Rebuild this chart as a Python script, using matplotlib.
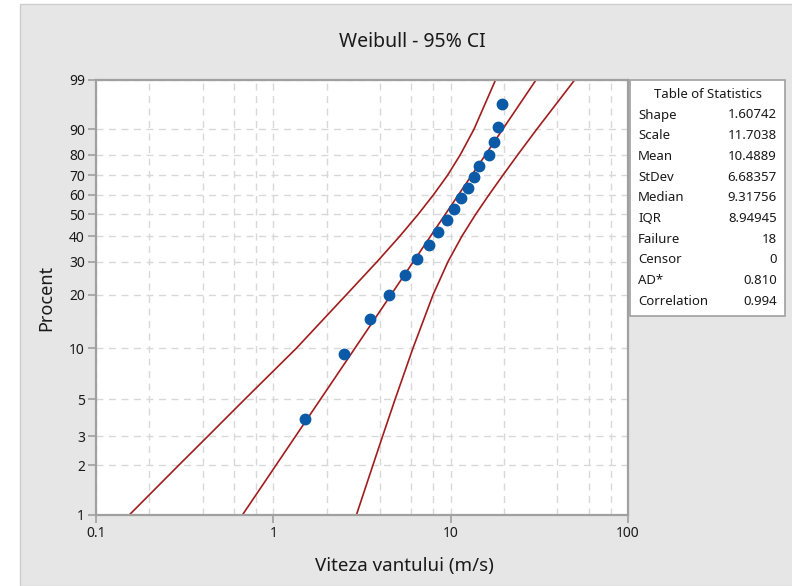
import numpy as np
import matplotlib
matplotlib.use("Agg")
import matplotlib.pyplot as plt
from matplotlib.patches import Rectangle

plt.rcParams['font.family'] = ['Noto Sans', 'DejaVu Sans']

# wind speed observations (m/s) and their plotted percent (median ranks)
speed = [1.5, 2.5, 3.5, 4.5, 5.5, 6.5, 7.5, 8.5, 9.5,
         10.5, 11.5, 12.5, 13.5, 14.5, 16.5, 17.5, 18.5, 19.5]
percent = [3.8, 9.2, 14.7, 20.1, 25.5, 31.0, 36.4, 41.8, 47.3,
           52.7, 58.2, 63.6, 69.0, 74.5, 79.9, 85.3, 90.8, 96.2]

# fitted Weibull
shape = 1.60742
scale = 11.7038

# 95% CI band, read at the percent grid levels
ci_pct = [1, 2, 3, 5, 10, 20, 30, 40, 50, 60, 70, 80, 90, 99]
ci_low = [0.154, 0.292, 0.427, 0.69, 1.35, 2.575, 3.85, 5.17, 6.55, 8.01, 9.61, 11.34, 13.54, 17.9]
ci_high = [2.94, 3.64, 4.13, 4.86, 6.13, 7.95, 9.66, 11.58, 13.82, 16.47, 19.7, 23.92, 30.6, 50.0]

stat_names = ["Shape", "Scale", "Mean", "StDev", "Median", "IQR",
              "Failure", "Censor", "AD*", "Correlation"]
stat_values = ["1.60742", "11.7038", "10.4889", "6.68357", "9.31756",
               "8.94945", "18", "0", "0.810", "0.994"]

pct_ticks = [1, 2, 3, 5, 10, 20, 30, 40, 50, 60, 70, 80, 90, 99]
x_ticks = [0.1, 1, 10, 100]
x_grid = [0.2, 0.4, 0.6, 0.8, 2, 4, 6, 8, 20, 40, 60, 80]

red = "#a11d1d"
blue = "#0a5aa8"
frame = "#a0a0a0"
gridc = "#d8d8d8"
txt = "#1a1a1a"


def weib_fwd(p):
    p = np.clip(np.asarray(p, dtype=float), 1e-6, 100 - 1e-6)
    return np.log(-np.log(1 - p / 100.0))


def weib_inv(w):
    return 100.0 * (1 - np.exp(-np.exp(np.asarray(w, dtype=float))))


fig = plt.figure(figsize=(7.92, 5.86), dpi=100)
fig.patch.set_facecolor("white")
fig.patches.append(Rectangle((20 / 792, 0), 1, 582 / 586, transform=fig.transFigure,
                             facecolor="#e6e6e6", edgecolor="#cdcdcd", lw=1, zorder=-5))

ax = fig.add_axes([96 / 792, 71 / 586, 532 / 792, 435 / 586])
ax.set_facecolor("white")
ax.set_xscale("log")
ax.set_yscale("function", functions=(weib_fwd, weib_inv))
ax.set_xlim(0.1, 100)
ax.set_ylim(1, 99)

ax.set_xticks(x_ticks)
ax.set_xticklabels(["0.1", "1", "10", "100"])
ax.set_xticks(x_grid, minor=True)
ax.set_yticks(pct_ticks)
ax.set_yticklabels([str(p) for p in pct_ticks])
ax.yaxis.set_minor_locator(matplotlib.ticker.NullLocator())
ax.tick_params(which="major", direction="out", length=6, width=1.2,
               color=frame, labelsize=10, labelcolor=txt, pad=2)
ax.tick_params(which="minor", length=0)
ax.grid(True, which="both", color=gridc, lw=1, dashes=(5, 4))
for s in ax.spines.values():
    s.set_color(frame)
    s.set_linewidth(1.6)
ax.set_axisbelow(True)

# fitted line
fit_p = np.array([1, 99])
fit_x = scale * (-np.log(1 - fit_p / 100.0)) ** (1 / shape)
ax.plot(fit_x, fit_p, color=red, lw=1.2)
ax.plot(ci_low, ci_pct, color=red, lw=1.2)
ax.plot(ci_high, ci_pct, color=red, lw=1.2)
ax.plot(speed, percent, "o", color=blue, ms=7.5, mec=blue, zorder=5)

ax.set_ylabel("Procent", fontsize=13, labelpad=10, color=txt)
fig.text(404 / 792, 1 - 566 / 586, "Viteza vantului (m/s)", ha="center",
         va="center", fontsize=13.5, color=txt)
fig.text(412 / 792, 1 - 42 / 586, "Weibull - 95% CI", ha="center", va="center",
         fontsize=14, color=txt)

# statistics table
bx0, bx1, by0, by1 = 630, 785, 80, 316
fig.patches.append(Rectangle((bx0 / 792, 1 - by1 / 586), (bx1 - bx0) / 792,
                             (by1 - by0) / 586, transform=fig.transFigure,
                             facecolor="white", edgecolor=frame, lw=1.2, zorder=3))
fig.text((bx0 + bx1) / 2 / 792, 1 - 95 / 586, "Table of Statistics",
         ha="center", va="center", fontsize=9.5, zorder=4, color=txt)
for i, (nm, val) in enumerate(zip(stat_names, stat_values)):
    yy = 1 - (115 + i * 20.7) / 586
    fig.text(638 / 792, yy, nm, ha="left", va="center", fontsize=9.5, zorder=4, color=txt)
    fig.text(777 / 792, yy, val, ha="right", va="center", fontsize=9.5, zorder=4, color=txt)

fig.savefig("out.png", dpi=100)
